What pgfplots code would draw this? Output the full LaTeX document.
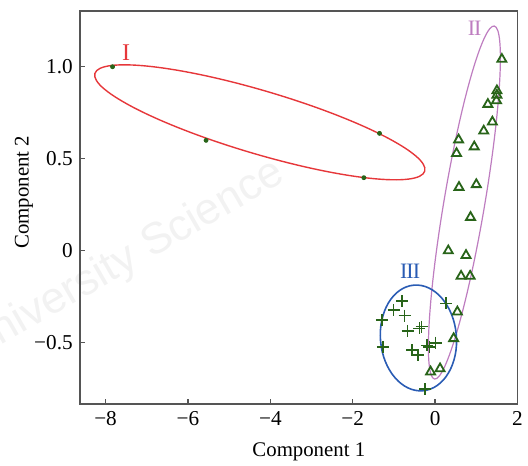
\documentclass[border=0pt]{standalone}
\usepackage{pgfplots}
\pgfplotsset{compat=1.18}
\usepackage{fontspec}
\setmainfont{Liberation Serif}
\setsansfont{Liberation Sans}
\definecolor{ellred}{RGB}{230,55,58}
\definecolor{ellmag}{RGB}{190,125,192}
\definecolor{ellblue}{RGB}{42,92,180}
\definecolor{mkgreen}{RGB}{40,100,25}
\definecolor{axgray}{RGB}{85,85,85}
\begin{document}
\fontsize{10.4}{12}\selectfont
\begin{tikzpicture}
\useasboundingbox (-40pt,-30.5pt) rectangle (224pt,202pt);
\node[rotate=30, anchor=base east, text=black!5, font=\sffamily\fontsize{22}{22}\selectfont] at (106.5pt,113.5pt) {University Science};
\begin{axis}[
  at={(0pt,0pt)}, anchor=south west,
  scale only axis, width=218.75pt, height=196.5pt,
  xmin=-8.62, xmax=2, ymin=-0.833, ymax=1.303,
  xtick={-8,-6,-4,-2,0,2},
  xticklabels={−8,−6,−4,−2,0,2},
  ytick={-0.5,0,0.5,1.0},
  yticklabels={−0.5,0,0.5,1.0},
  tick pos=left, tick align=inside,
  major tick length=2.5pt,
  axis line style={axgray, line width=0.9pt},
  tick style={axgray, line width=0.7pt},
  tick label style={font=\fontsize{10.6}{12}\selectfont},
  xlabel={Component 1}, ylabel={Component 2},
  label style={font=\fontsize{10.4}{12}\selectfont},
  xlabel style={at={(axis description cs:0.523,-0.122)}, anchor=center},
  ylabel style={at={(axis description cs:-0.128,0.539)}, anchor=center},
  clip=false,
]
% ellipses
\draw[ellred, line width=0.7pt, rotate around={-16.5:(axis cs:-4.255,0.698)}]
  (axis cs:-4.255,0.698) ellipse [x radius=86pt, y radius=15.8pt];
\draw[ellmag, line width=0.6pt, rotate around={-9.6:(axis cs:0.711,0.262)}]
  (axis cs:0.711,0.262) ellipse [x radius=10.2pt, y radius=89.5pt];
\draw[ellblue, line width=0.8pt, rotate around={5:(axis cs:-0.405,-0.474)}]
  (axis cs:-0.405,-0.474) ellipse [x radius=19pt, y radius=26.5pt];
% group I
\addplot[only marks, mark=*, mark size=1pt, mkgreen] coordinates {
  (-7.83,1.0) (-5.56,0.60) (-1.35,0.638) (-1.73,0.397)};
% group II
\addplot[only marks, mark=triangle, mark size=2.6pt, mkgreen, mark options={line width=0.9pt}] coordinates {
  (1.62,1.041) (1.50,0.870) (1.50,0.846) (1.49,0.816) (1.28,0.796)
  (1.39,0.700) (1.18,0.651) (0.57,0.603) (0.95,0.565) (0.52,0.529)
  (0.58,0.345) (1.00,0.360) (0.86,0.182) (0.32,0.0) (0.75,-0.025)
  (0.63,-0.138) (0.85,-0.138) (0.54,-0.332) (0.45,-0.477) (-0.11,-0.658)
  (0.12,-0.641)};
% group III
\addplot[only marks, mark=+, mark size=3pt, mkgreen, mark options={line width=0.8pt}] coordinates {
  (-0.80,-0.272) (-1.01,-0.322) (-0.74,-0.353) (-1.29,-0.377) (0.27,-0.286)
  (-0.67,-0.435) (-0.38,-0.422) (-0.33,-0.412) (-1.27,-0.522) (-0.56,-0.540)
  (-0.41,-0.567) (-0.20,-0.514) (-0.14,-0.522) (0.01,-0.500) (-0.24,-0.753)};
% labels
\node[ellred, font=\fontsize{12}{12}\selectfont] at (axis cs:-7.50,1.076) {I};
\node[ellmag, font=\fontsize{11}{12}\selectfont] at (axis cs:0.96,1.209) {I\kern-0.5ptI};
\node[ellblue, font=\fontsize{11}{12}\selectfont] at (axis cs:-0.607,-0.114) {I\kern-0.5ptI\kern-0.5ptI};
\end{axis}
\end{tikzpicture}
\end{document}
